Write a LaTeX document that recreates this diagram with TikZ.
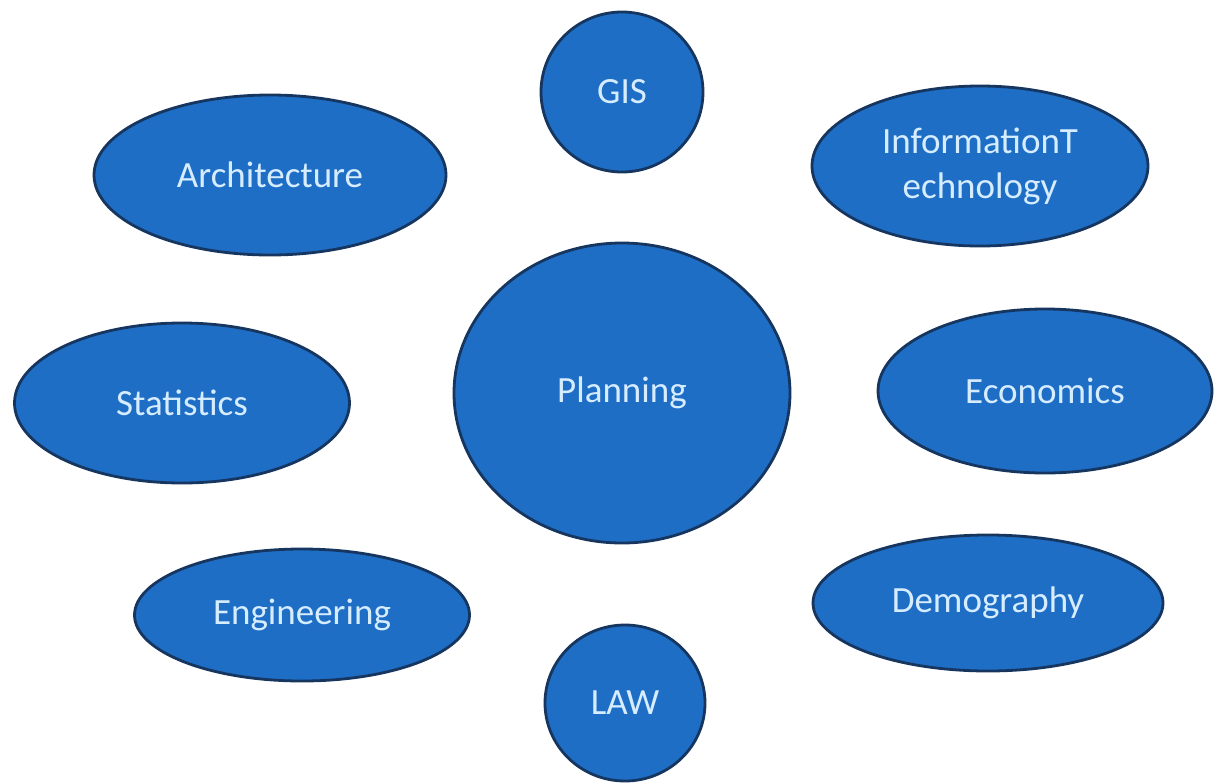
\documentclass[tikz,border=0pt]{standalone}
\usepackage{fontspec}
\setmainfont{Carlito}
\usepackage{tikz}
\usetikzlibrary{shapes.geometric}
\definecolor{bubblefill}{RGB}{30,110,198}
\definecolor{bubbleedge}{RGB}{22,54,96}
\definecolor{bubbletext}{RGB}{214,236,255}

\begin{document}
\begin{tikzpicture}[x=1pt, y=-1pt,
    bubble/.style={ellipse, fill=bubblefill, draw=bubbleedge, line width=2.8pt,
      inner sep=0pt, text=bubbletext, align=center,
      font=\fontsize{37}{45}\selectfont}]
  % page frame
  \fill[white] (0,0) rectangle (1215,782);
  \useasboundingbox (0,0) rectangle (1215,782);

  % centre
  \node[bubble, minimum width=336pt, minimum height=300pt] (planning) at (622,393) {Planning};

  % top and bottom circles
  \node[bubble, minimum width=162pt, minimum height=160pt] (gis) at (622,92) {GIS};
  \node[bubble, minimum width=160pt, minimum height=156pt] (law) at (625,703) {LAW};

  % left side
  \node[bubble, minimum width=352pt, minimum height=160pt] (arch) at (270,175) {Architecture};
  \node[bubble, minimum width=335pt, minimum height=160pt] (stats) at (182,403) {Statistics};
  \node[bubble, minimum width=335pt, minimum height=132pt] (eng) at (302,615) {Engineering};

  % right side
  \node[bubble, minimum width=336pt, minimum height=160pt] (infotech) at (980,166) {InformationT\\echnology};
  \node[bubble, minimum width=334pt, minimum height=164pt] (econ) at (1045,391) {Economics};
  \node[bubble, minimum width=350pt, minimum height=136pt] (demo) at (988,603) {Demography};
\end{tikzpicture}
\end{document}
